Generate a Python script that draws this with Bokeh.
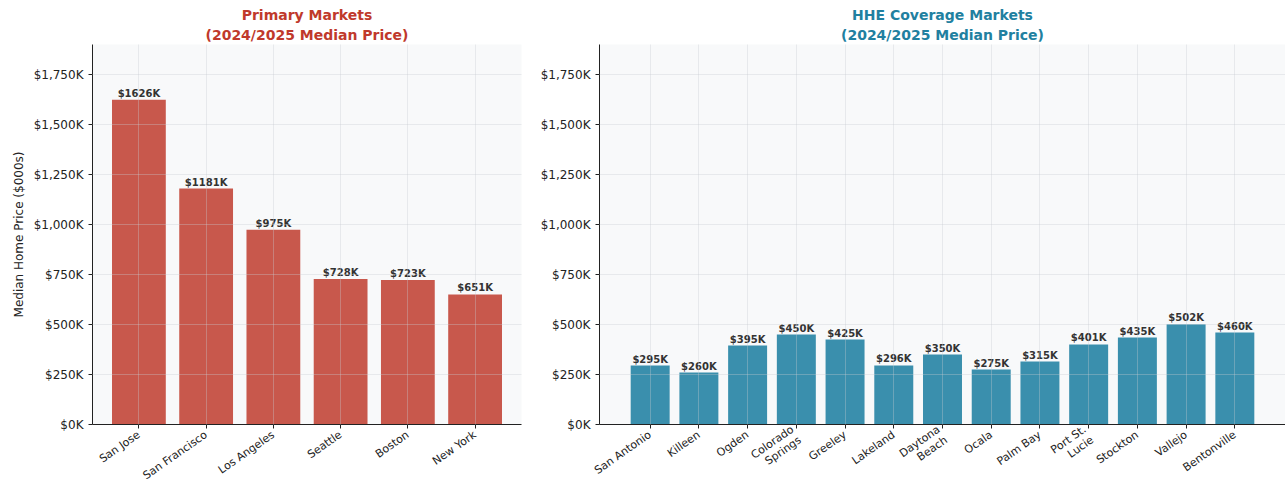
from bokeh.plotting import figure
from bokeh.layouts import row
from bokeh.models import Range1d, FixedTicker, ColumnDataSource, CustomJSTickFormatter, Title
from bokeh.embed import file_html
from bokeh.resources import INLINE
from bokeh.core.properties import value

primary_cities = ["San Jose", "San Francisco", "Los Angeles", "Seattle", "Boston", "New York"]
primary_prices = [1626, 1181, 975, 728, 723, 651]

hhe_cities = ["San Antonio", "Killeen", "Ogden", "Colorado\nSprings", "Greeley", "Lakeland",
              "Daytona\nBeach", "Ocala", "Palm Bay", "Port St.\nLucie", "Stockton", "Vallejo", "Bentonville"]
hhe_prices = [295, 260, 395, 450, 425, 296, 350, 275, 315, 401, 435, 502, 460]

y_ticks = [0, 250, 500, 750, 1000, 1250, 1500, 1750]
FONT = "DejaVu Sans"
YMAX = max(primary_prices) * 1.17


def make(cities, prices, color, title_color, title_lines, frame_w, left_border, ylabel, right_border):
    n = len(cities)
    xs = list(range(n))
    src = ColumnDataSource(dict(x=xs, top=prices, lab=[f"${v}K" for v in prices]))
    p = figure(frame_width=frame_w, frame_height=380, output_backend="svg", toolbar_location=None,
               x_range=Range1d(-0.4 - 0.05 * (n - 0.2), n - 1 + 0.4 + 0.05 * (n - 0.2)),
               y_range=Range1d(0, YMAX),
               min_border_left=left_border, min_border_right=right_border,
               min_border_top=44, min_border_bottom=63)
    p.title = None
    for i, t in enumerate(reversed(title_lines)):
        p.add_layout(Title(text=t, align="center", text_font=FONT, text_font_size="14px",
                           text_font_style="bold", text_color=title_color,
                           standoff=4 if i == 0 else 0, offset=0), "above")
    p.background_fill_color = "#f8f9fa"
    p.border_fill_color = "white"
    p.outline_line_color = None

    p.vbar(x="x", top="top", width=0.8, source=src, fill_color=color, line_color=color,
           line_alpha=0.0)
    p.text(x="x", y="top", text="lab", source=src, text_align="center", text_baseline="bottom",
           y_offset=-1, text_font=value(FONT), text_font_size="10px", text_font_style="bold",
           text_color="#333333")

    for g in (p.xgrid, p.ygrid):
        g.grid_line_color = "#c8ccd2"
        g.grid_line_alpha = 0.35
        g.grid_line_width = 1
        g.level = "overlay"
    p.xgrid.ticker = FixedTicker(ticks=xs)
    p.ygrid.ticker = FixedTicker(ticks=y_ticks)

    p.xaxis.ticker = FixedTicker(ticks=xs)
    p.xaxis.major_label_overrides = {i: c for i, c in enumerate(cities)}
    p.xaxis.major_label_orientation = 0.61
    p.xaxis.major_label_text_font = FONT
    p.xaxis.major_label_text_font_size = "11px"
    p.xaxis.major_label_text_color = "#222222"
    p.xaxis.major_label_text_line_height = 1.0
    p.xaxis.minor_tick_line_color = None
    p.xaxis.major_tick_out = 4
    p.xaxis.major_tick_in = 0

    p.yaxis.ticker = FixedTicker(ticks=y_ticks)
    p.yaxis.formatter = CustomJSTickFormatter(
        code="return '$' + tick.toLocaleString('en-US') + 'K';")
    p.yaxis.major_label_text_font = FONT
    p.yaxis.major_label_text_font_size = "12px"
    p.yaxis.major_label_text_color = "#222222"
    p.yaxis.minor_tick_line_color = None
    p.yaxis.major_tick_out = 4
    p.yaxis.major_tick_in = 0
    if ylabel:
        p.yaxis.axis_label = ylabel
        p.yaxis.axis_label_text_font = FONT
        p.yaxis.axis_label_text_font_size = "12px"
        p.yaxis.axis_label_text_font_style = "normal"
        p.yaxis.axis_label_text_color = "#222222"
    for ax in (p.xaxis, p.yaxis):
        ax.axis_line_color = "#222222"
        ax.major_tick_line_color = "#222222"
    return p


left = make(primary_cities, primary_prices, "#c8584c", "#c0392b",
            ["Primary Markets", "(2024/2025 Median Price)"], 429, 92, "Median Home Price ($000s)", 9)
right = make(hhe_cities, hhe_prices, "#3a8fad", "#2180a0",
             ["HHE Coverage Markets", "(2024/2025 Median Price)"], 686, 69, None, 0)

layout = row(left, right, spacing=0)
open("out.html", "w").write(file_html(layout, INLINE))
